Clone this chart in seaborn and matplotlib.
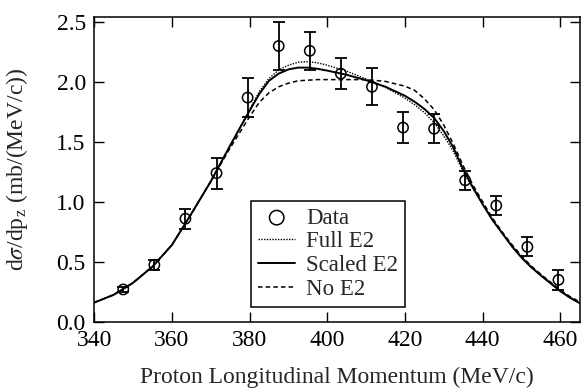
import numpy as np
import pandas as pd
import matplotlib
matplotlib.use("Agg")
import matplotlib.pyplot as plt
import seaborn as sns

# measured points
p_data = [347.5, 355.5, 363.5, 371.5, 379.5, 387.5, 395.5, 403.5,
          411.5, 419.5, 427.5, 435.5, 443.5, 451.5, 459.5]
xs_data = [0.27, 0.475, 0.86, 1.24, 1.87, 2.30, 2.26, 2.07,
           1.96, 1.62, 1.61, 1.18, 0.97, 0.625, 0.35]
xs_err = [0.02, 0.04, 0.085, 0.13, 0.16, 0.20, 0.16, 0.13,
          0.155, 0.13, 0.12, 0.08, 0.08, 0.08, 0.085]

# model curves
p_model = [340, 345, 350, 355, 360, 365, 370, 375, 380, 382.5, 385, 387.5,
           390, 392.5, 395, 397.5, 400, 405, 410, 415, 420, 422.5, 425,
           427.5, 430, 432.5, 435, 437.5, 440, 442.5, 445, 447.5, 450,
           452.5, 455, 457.5, 460, 462.5, 465]
full_e2 = [0.16, 0.225, 0.325, 0.46, 0.64, 0.90, 1.17, 1.47, 1.77, 1.92,
           2.03, 2.10, 2.14, 2.165, 2.17, 2.16, 2.14, 2.09, 2.025, 1.955,
           1.865, 1.81, 1.745, 1.66, 1.55, 1.42, 1.25, 1.11, 0.98, 0.85,
           0.74, 0.635, 0.54, 0.46, 0.39, 0.325, 0.26, 0.205, 0.16]
scaled_e2 = [0.16, 0.225, 0.325, 0.46, 0.64, 0.90, 1.17, 1.47, 1.76, 1.90,
             2.01, 2.07, 2.105, 2.12, 2.12, 2.11, 2.095, 2.06, 2.015, 1.96,
             1.885, 1.835, 1.775, 1.70, 1.59, 1.45, 1.27, 1.12, 0.98, 0.85,
             0.74, 0.63, 0.535, 0.455, 0.385, 0.32, 0.255, 0.20, 0.155]
no_e2 = [0.16, 0.225, 0.325, 0.46, 0.64, 0.90, 1.17, 1.45, 1.71, 1.83,
         1.91, 1.96, 1.99, 2.01, 2.015, 2.02, 2.02, 2.02, 2.02, 2.005,
         1.965, 1.93, 1.86, 1.77, 1.64, 1.48, 1.30, 1.14, 1.00, 0.865,
         0.75, 0.645, 0.55, 0.465, 0.395, 0.33, 0.265, 0.21, 0.165]

x_ticks = [340, 360, 380, 400, 420, 440, 460]
y_ticks = [0.0, 0.5, 1.0, 1.5, 2.0, 2.5]

sns.set_style("ticks")
plt.rcParams['font.family'] = ['Liberation Serif', 'DejaVu Serif']
plt.rcParams['mathtext.fontset'] = 'stix'

fig = plt.figure(figsize=(5.81, 3.92), dpi=100)
ax = fig.add_axes([0.162, 0.179, 0.836, 0.777])

curves = pd.DataFrame({"p": p_model, "Full E2": full_e2,
                       "Scaled E2": scaled_e2, "No E2": no_e2})

ax.errorbar(p_data, xs_data, yerr=xs_err, fmt='none', ecolor='black',
            elinewidth=1.3, capsize=4, capthick=1.3)
sns.scatterplot(x=p_data, y=xs_data, ax=ax, marker='o', s=55,
                facecolors='none', edgecolor='black', linewidth=1.1,
                label='Data', zorder=3)
sns.lineplot(data=curves, x="p", y="Full E2", ax=ax, color='black',
             linestyle=(0, (1, 1)), linewidth=1.0, label='Full E2')
sns.lineplot(data=curves, x="p", y="Scaled E2", ax=ax, color='black',
             linestyle='-', linewidth=1.4, label='Scaled E2')
sns.lineplot(data=curves, x="p", y="No E2", ax=ax, color='black',
             linestyle=(0, (3, 2)), linewidth=1.1, label='No E2')

ax.set_xlim(340, 465)
ax.set_ylim(0, 2.54)
ax.set_xticks(x_ticks)
ax.set_yticks(y_ticks)
ax.set_yticklabels([f"{v:.1f}" for v in y_ticks])
ax.tick_params(direction='in', length=7, width=1, labelsize=17,
               top=True, right=True, colors='black', pad=6)
for s in ax.spines.values():
    s.set_linewidth(1.1)
    s.set_color('black')

ax.set_xlabel("Proton Longitudinal Momentum (MeV/c)", fontsize=17, labelpad=11)
ax.set_ylabel(r"d$\sigma$/dp$_\mathregular{z}$ (mb/(MeV/c))", fontsize=17,
              labelpad=19)

leg = ax.legend(loc='lower left', bbox_to_anchor=(0.324, 0.049),
                borderaxespad=0, fontsize=16.5, frameon=True, fancybox=False,
                edgecolor='black', framealpha=1, handlelength=1.6,
                handletextpad=0.5, labelspacing=0.12, borderpad=0.3,
                markerscale=1.4)
leg.get_frame().set_linewidth(1.1)

fig.savefig("out.png", dpi=100)
